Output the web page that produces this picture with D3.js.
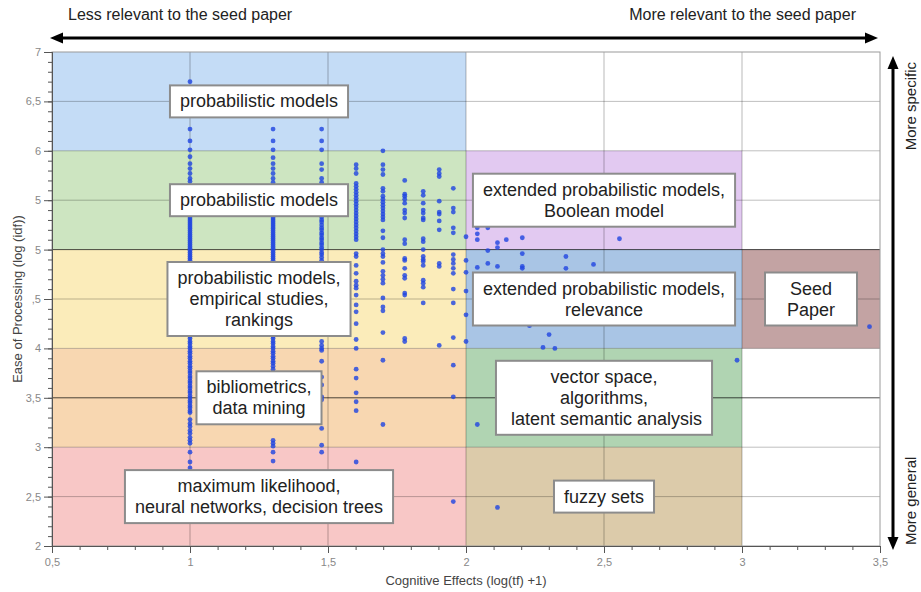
<!DOCTYPE html>
<html>
<head>
<meta charset="utf-8">
<script src="https://cdn.jsdelivr.net/npm/d3@7"></script>
<style>
body{margin:0;background:#fff;}
svg{display:block;font-family:"Liberation Sans",Arial,Helvetica,sans-serif;}
</style>
</head>
<body>
<svg id="chart" width="921" height="592"></svg>
<script>
// Topic areas: [x0, x1, y0, y1] in data units
var areaBounds = [
	[0.5, 2, 6, 7], [0.5, 2, 5, 6], [0.5, 2, 4, 5], [0.5, 2, 3, 4], [0.5, 2, 2, 3],
	[2, 3, 5, 6], [2, 3, 4, 5], [2, 3, 3, 4], [2, 3, 2, 3], [3, 3.5, 4, 5]
];
var areaLabels = [
	["probabilistic models"],
	["probabilistic models"],
	["probabilistic models,", "empirical studies,", "rankings"],
	["bibliometrics,", "data mining"],
	["maximum likelihood,", "neural networks, decision trees"],
	["extended probabilistic models,", "Boolean model"],
	["extended probabilistic models,", "relevance"],
	["vector space,", "algorithms,", " latent semantic analysis"],
	["fuzzy sets"],
	["Seed", "Paper"]
];
var areaColors = ["#c4dcf6", "#cde5c1", "#fbecba", "#f8d7b1", "#f8c7c6",
	"#e2c9f1", "#a9c5e5", "#b0d4b2", "#dccbaa", "#c3a3a3"];

var xTicks = [0.5, 1, 1.5, 2, 2.5, 3, 3.5];
var xTickLabels = ["0,5", "1", "1,5", "2", "2,5", "3", "3,5"];
var yTicks = [2, 2.5, 3, 3.5, 4, 4.5, 5, 5.5, 6, 6.5, 7];
var yTickLabels = ["2", "2,5", "3", "3,5", "4", ",5", "5", "5", "6", "6,5", "7"];

// Papers sharing the same term frequency line up in columns
var colX = [1, 1.301, 1.477, 1.602, 1.699, 1.778, 1.845, 1.903, 1.954, 2.0];
var colY = [
	[6.70, 6.22, 6.10, 6.01, 5.94, 5.87, 5.82, 5.77, 5.72, 5.69, 5.62, 5.55, 5.48, 5.40, 5.33, 5.31, 5.29, 5.27, 5.25, 5.23, 5.21, 5.19, 5.17, 5.15, 5.13, 5.11, 5.09, 5.07, 5.05, 5.03, 5.01, 4.99, 4.97, 4.95, 4.93, 4.91, 4.89, 4.75, 4.55, 4.35, 4.20, 4.12, 4.10, 4.07, 4.05, 4.02, 4.00, 3.97, 3.95, 3.92, 3.90, 3.87, 3.85, 3.82, 3.80, 3.77, 3.75, 3.72, 3.70, 3.67, 3.65, 3.62, 3.60, 3.57, 3.55, 3.52, 3.50, 3.47, 3.45, 3.42, 3.40, 3.37, 3.35, 3.28, 3.24, 3.21, 3.17, 3.14, 3.10, 3.07, 3.04, 2.95, 2.85, 2.79],
	[6.22, 6.10, 6.01, 5.93, 5.87, 5.82, 5.77, 5.72, 5.68, 5.55, 5.42, 5.33, 5.31, 5.29, 5.27, 5.25, 5.23, 5.21, 5.19, 5.17, 5.15, 5.13, 5.11, 5.09, 5.07, 5.05, 5.03, 5.01, 4.99, 4.97, 4.95, 4.93, 4.91, 4.89, 4.60, 4.30, 4.12, 4.10, 4.07, 4.05, 4.02, 4.00, 3.97, 3.95, 3.92, 3.90, 3.87, 3.85, 3.82, 3.79, 3.76, 3.07, 3.04, 3.01, 2.95, 2.86],
	[6.22, 6.10, 6.01, 5.87, 5.81, 5.72, 5.68, 5.50, 5.33, 5.30, 5.28, 5.25, 5.22, 5.20, 5.17, 5.15, 5.12, 5.10, 5.07, 5.05, 5.02, 5.00, 4.97, 4.95, 4.92, 4.89, 4.50, 4.07, 4.03, 4.00, 3.98, 3.87, 3.71, 3.63, 3.51, 3.48, 3.19, 3.02, 2.95],
	[5.86, 5.82, 5.77, 5.67, 5.64, 5.61, 5.58, 5.55, 5.52, 5.49, 5.46, 5.43, 5.40, 5.37, 5.34, 5.31, 5.28, 5.25, 5.22, 5.19, 5.16, 5.13, 5.10, 4.96, 4.93, 4.84, 4.76, 4.68, 4.64, 4.61, 4.54, 4.44, 4.37, 4.25, 4.09, 4.00, 3.79, 3.70, 3.55, 3.46, 3.37, 2.85],
	[6.00, 5.86, 5.81, 5.76, 5.62, 5.59, 5.54, 5.51, 5.48, 5.45, 5.42, 5.39, 5.36, 5.33, 5.30, 5.19, 5.12, 5.00, 4.96, 4.93, 4.87, 4.78, 4.74, 4.70, 4.66, 4.51, 4.42, 4.38, 4.16, 3.88, 3.23],
	[5.70, 5.56, 5.54, 5.51, 5.47, 5.40, 5.37, 5.32, 5.10, 5.06, 4.91, 4.89, 4.81, 4.74, 4.71, 4.56, 4.54, 4.10, 4.07],
	[5.59, 5.55, 5.47, 5.40, 5.37, 5.32, 5.30, 5.11, 5.08, 5.00, 4.93, 4.90, 4.88, 4.84, 4.69, 4.66, 4.62, 4.46],
	[5.81, 5.77, 5.74, 5.49, 5.38, 5.36, 5.29, 5.20, 4.86, 4.83, 4.03],
	[5.62, 5.42, 5.38, 5.22, 5.17, 4.95, 4.90, 4.86, 4.81, 4.76, 4.60, 4.46, 4.11, 3.83, 3.51, 2.45],
	[5.13, 4.89, 4.77, 4.58, 4.34, 4.07]
];
// The sparser papers further right: [x, y]
var extraPoints = [
	[2.041, 5.22], [2.041, 5.16], [2.041, 5.10], [2.079, 5.22], [2.114, 5.07], [2.114, 5.02],
	[2.146, 5.10], [2.204, 5.12], [2.556, 5.11], [2.079, 4.99], [2.204, 4.96], [2.362, 4.93],
	[2.041, 4.82], [2.079, 4.86], [2.114, 4.83], [2.204, 4.83], [2.204, 4.81], [2.362, 4.81],
	[2.462, 4.85], [2.23, 4.23], [2.301, 4.14], [2.279, 4.01], [2.322, 4.00], [2.982, 3.88],
	[2.041, 3.23], [2.114, 2.39], [3.462, 4.22]
];

var svg = d3.select("#chart");
var margin = {top: 52, right: 41, bottom: 46, left: 52};
var width = 921, height = 592;

var x = d3.scaleLinear().domain([0.5, 3.5]).range([margin.left, width - margin.right]);
var y = d3.scaleLinear().domain([2, 7]).range([height - margin.bottom, margin.top]);

//Background areas
svg.append("g").selectAll("rect")
	.data(areaBounds)
	.join("rect")
	.attr("x", function(d){ return x(d[0]); })
	.attr("y", function(d){ return y(d[3]); })
	.attr("width", function(d){ return x(d[1]) - x(d[0]); })
	.attr("height", function(d){ return y(d[2]) - y(d[3]); })
	.attr("fill", function(d, i){ return areaColors[i]; });

//Grid
var grid = svg.append("g");
grid.selectAll("line.v")
	.data(xTicks.slice(1, -1))
	.join("line")
	.attr("x1", function(d){ return x(d); })
	.attr("x2", function(d){ return x(d); })
	.attr("y1", y(7)).attr("y2", y(2))
	.attr("stroke", "#000").attr("stroke-opacity", 0.28);
grid.selectAll("line.h")
	.data(yTicks.slice(1, -1))
	.join("line")
	.attr("x1", x(0.5)).attr("x2", x(3.5))
	.attr("y1", function(d){ return y(d); })
	.attr("y2", function(d){ return y(d); })
	.attr("stroke", "#000")
	.attr("stroke-opacity", function(d){ return (d === 5 || d === 3.5) ? 0.7 : 0.25; });

//Frame
svg.append("rect")
	.attr("x", x(0.5)).attr("y", y(7))
	.attr("width", x(3.5) - x(0.5)).attr("height", y(2) - y(7))
	.attr("fill", "none").attr("stroke", "#9a9a9a");

//Points
var points = [];
colX.forEach(function(cx, i){
	colY[i].forEach(function(v){ points.push([cx, v]); });
});
extraPoints.forEach(function(p){ points.push(p); });

svg.append("g").selectAll("circle")
	.data(points)
	.join("circle")
	.attr("cx", function(d){ return x(d[0]); })
	.attr("cy", function(d){ return y(d[1]); })
	.attr("r", 2.4)
	.attr("fill", "#2247e0")
	.attr("fill-opacity", 0.82);

//Axes
var minorX = d3.range(5, 36).map(function(v){ return v / 10; });
var minorY = d3.range(20, 71).map(function(v){ return v / 10; });

svg.append("g")
	.attr("transform", "translate(0," + y(2) + ")")
	.call(d3.axisBottom(x).tickValues(minorX).tickSize(4).tickFormat(""))
	.call(styleAxis);
svg.append("g")
	.attr("transform", "translate(0," + y(2) + ")")
	.call(d3.axisBottom(x).tickValues(xTicks).tickSize(7).tickPadding(5)
		.tickFormat(function(d, i){ return xTickLabels[i]; }))
	.call(styleAxis);
svg.append("g")
	.attr("transform", "translate(" + x(0.5) + ",0)")
	.call(d3.axisLeft(y).tickValues(minorY).tickSize(4).tickFormat(""))
	.call(styleAxis);
svg.append("g")
	.attr("transform", "translate(" + x(0.5) + ",0)")
	.call(d3.axisLeft(y).tickValues(yTicks).tickSize(8).tickPadding(3)
		.tickFormat(function(d, i){ return yTickLabels[i]; }))
	.call(styleAxis);

function styleAxis(g){
	g.select(".domain").attr("stroke", "#555");
	g.selectAll(".tick line").attr("stroke", "#555");
	g.selectAll(".tick text")
		.attr("fill", "#888")
		.attr("font-size", "11px")
		.attr("font-family", "'Liberation Sans', Arial, sans-serif");
}

//Axis titles
svg.append("text")
	.attr("text-anchor", "middle")
	.attr("transform", "translate(" + (x(2)) + ",585)")
	.attr("font-size", "13px")
	.attr("fill", "#444")
	.text("Cognitive Effects (log(tf) +1)");
svg.append("text")
	.attr("text-anchor", "middle")
	.attr("transform", "translate(22," + ((y(2) + y(7)) / 2) + ") rotate(-90)")
	.attr("font-size", "13px")
	.attr("fill", "#444")
	.text("Ease of Processing (log (idf))");

//Label boxes
var lineH = 21;
areaBounds.forEach(function(b, i){
	var lines = areaLabels[i];
	var cx = x((b[0] + b[1]) / 2), cy = y((b[2] + b[3]) / 2);
	var g = svg.append("g");
	var rect = g.append("rect");
	var text = g.append("text")
		.attr("text-anchor", "middle")
		.attr("font-size", "18px")
		.attr("fill", "#222")
		.attr("xml:space", "preserve");
	lines.forEach(function(l, j){
		text.append("tspan")
			.attr("x", cx)
			.attr("y", cy - (lines.length - 1) * lineH / 2 + j * lineH + 6)
			.text(l);
	});
	var w = 0;
	text.selectAll("tspan").each(function(){ w = Math.max(w, this.getComputedTextLength()); });
	w = Math.max(w + 20, 92);
	var h = lines.length * lineH + 11;
	rect.attr("x", cx - w / 2).attr("y", cy - h / 2)
		.attr("width", w).attr("height", h)
		.attr("fill", "#fff")
		.attr("stroke", "#8c8c8c")
		.attr("stroke-width", 2);
});

//Direction arrows
function arrowHead(tx, ty, dir){
	var len = 13, half = 5.5;
	var p;
	if (dir === "left") p = [[tx, ty], [tx + len, ty - half], [tx + len, ty + half]];
	if (dir === "right") p = [[tx, ty], [tx - len, ty - half], [tx - len, ty + half]];
	if (dir === "up") p = [[tx, ty], [tx - half, ty + len], [tx + half, ty + len]];
	if (dir === "down") p = [[tx, ty], [tx - half, ty - len], [tx + half, ty - len]];
	svg.append("path").attr("d", "M" + p.join("L") + "Z").attr("fill", "#000");
}
svg.append("line").attr("x1", 56).attr("x2", 872).attr("y1", 38).attr("y2", 38)
	.attr("stroke", "#000").attr("stroke-width", 3);
arrowHead(50, 38, "left");
arrowHead(878, 38, "right");
svg.append("line").attr("x1", 893).attr("x2", 893).attr("y1", 62).attr("y2", 544)
	.attr("stroke", "#000").attr("stroke-width", 3);
arrowHead(893, 56, "up");
arrowHead(893, 550, "down");

svg.append("text").attr("x", 68).attr("y", 20)
	.attr("font-size", "16px").attr("fill", "#222")
	.text("Less relevant to the seed paper");
svg.append("text").attr("x", 856).attr("y", 20)
	.attr("text-anchor", "end")
	.attr("font-size", "16px").attr("fill", "#222")
	.text("More relevant to the seed paper");
svg.append("text")
	.attr("transform", "translate(916,62) rotate(-90)")
	.attr("text-anchor", "end")
	.attr("font-size", "15px").attr("fill", "#222")
	.text("More specific");
svg.append("text")
	.attr("transform", "translate(916,545) rotate(-90)")
	.attr("text-anchor", "start")
	.attr("font-size", "15px").attr("fill", "#222")
	.text("More general");
</script>
</body>
</html>
